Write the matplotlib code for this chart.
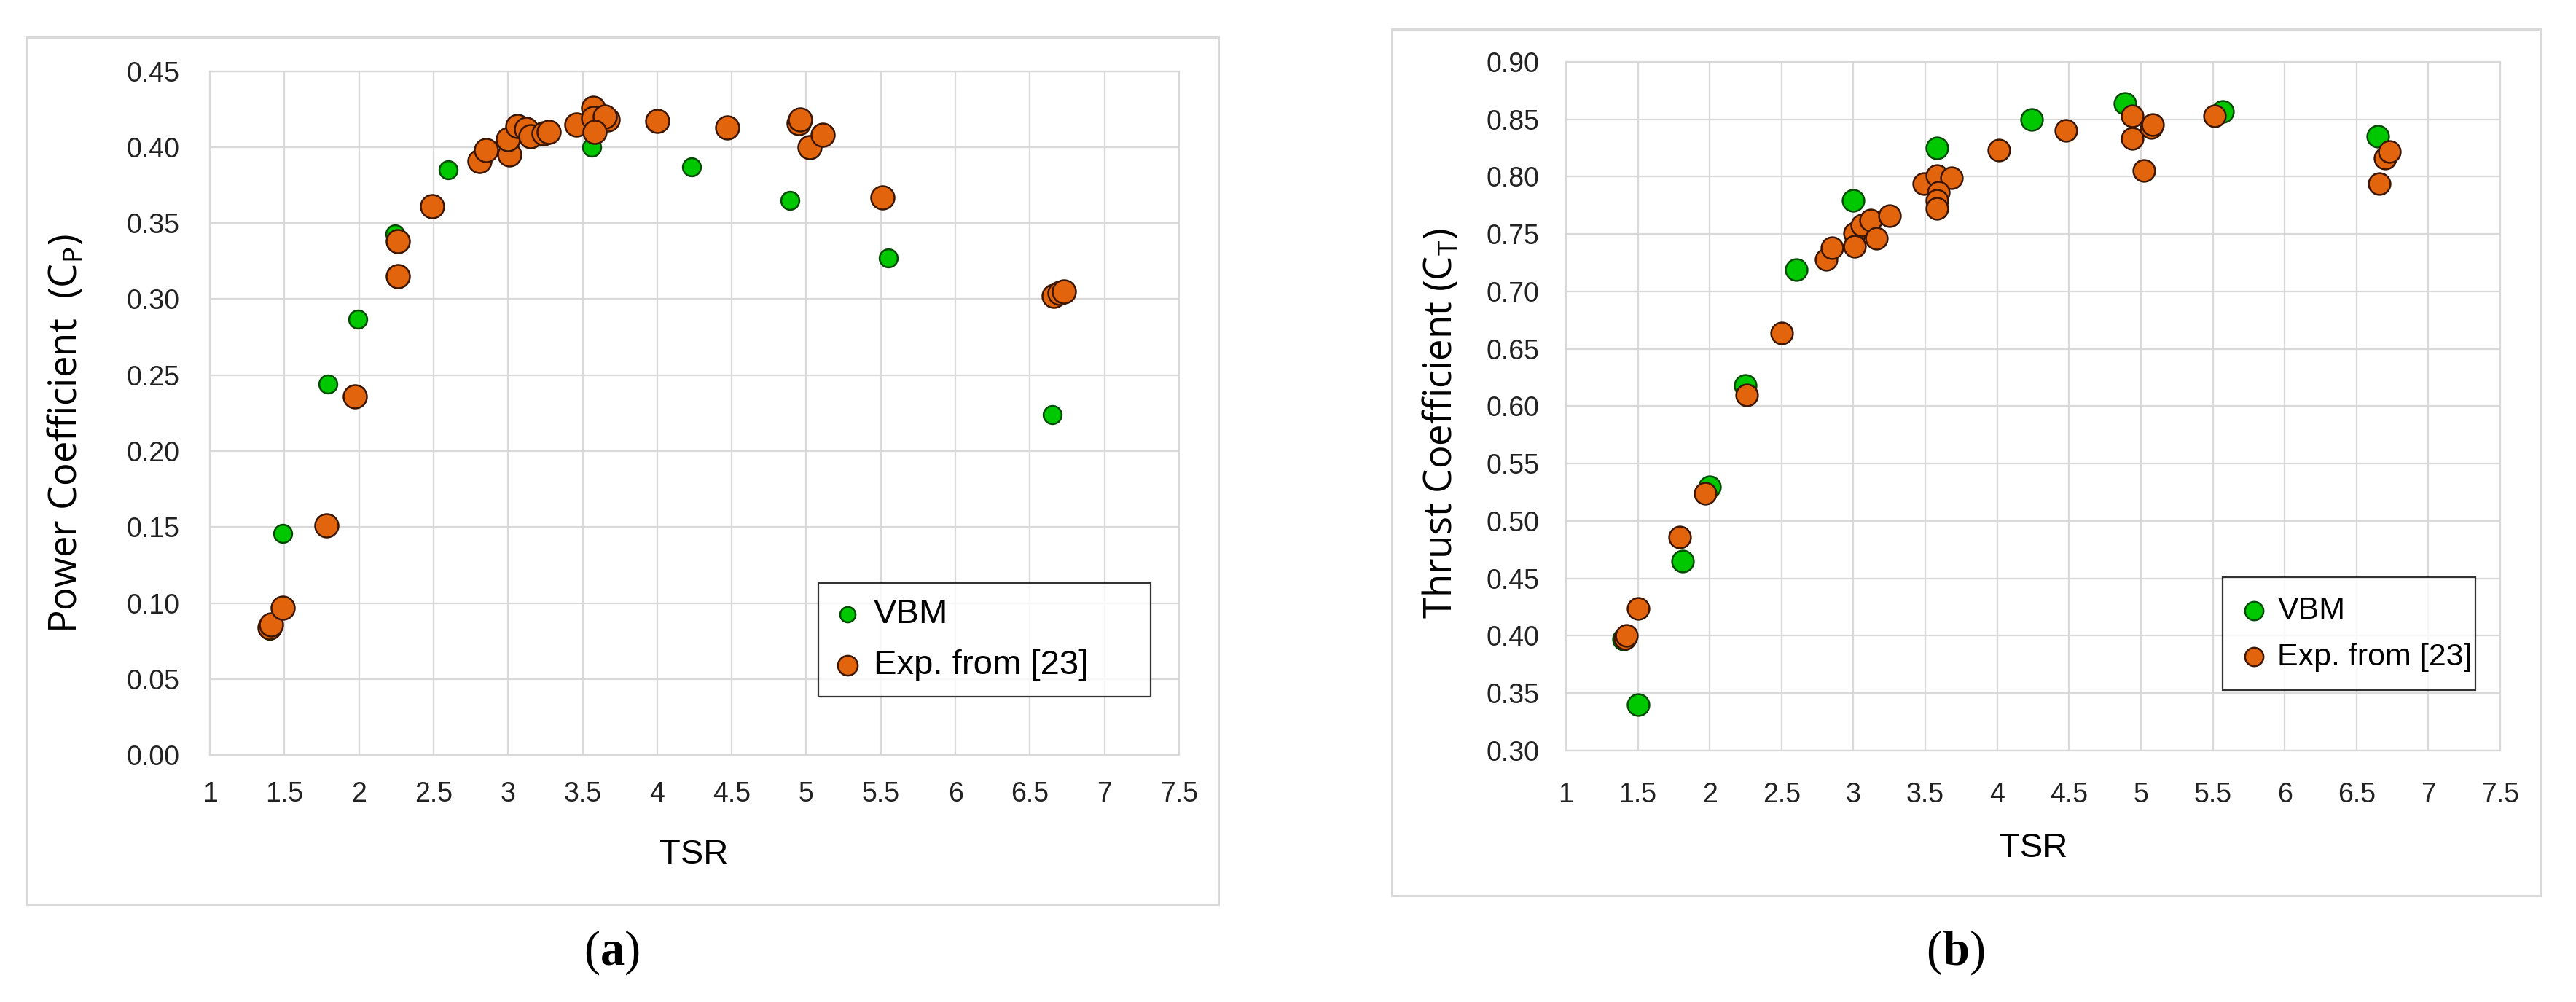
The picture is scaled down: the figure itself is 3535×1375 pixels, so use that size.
import matplotlib

matplotlib.use("Agg")
import matplotlib.pyplot as plt
from matplotlib.patches import Rectangle
from matplotlib.ticker import FormatStrFormatter, FuncFormatter

plt.rcParams["font.family"] = ["Liberation Sans", "DejaVu Sans"]
plt.rcParams["mathtext.default"] = "regular"

# ---- data ---------------------------------------------------------------
# (a) power coefficient
vbm_tsr_a = [1.40, 1.49, 1.79, 1.99, 2.24, 2.60, 3.00, 3.56, 4.23, 4.89, 5.55, 6.65]
vbm_cp = [0.082, 0.146, 0.244, 0.287, 0.343, 0.385, 0.403, 0.400, 0.387, 0.365, 0.327, 0.224]

exp_tsr_a = [1.40, 1.41, 1.49, 1.78, 1.97, 2.26, 2.26, 2.49, 2.81, 2.85, 3.01, 3.00,
             3.06, 3.12, 3.15, 3.24, 3.27, 3.46, 3.57, 3.57, 3.67, 3.65, 3.58, 4.00,
             4.47, 4.95, 4.96, 5.02, 5.11, 5.51, 6.66, 6.70, 6.73]
exp_cp = [0.084, 0.086, 0.097, 0.151, 0.236, 0.338, 0.315, 0.361, 0.391, 0.398, 0.395, 0.405,
          0.414, 0.412, 0.407, 0.409, 0.410, 0.415, 0.426, 0.419, 0.418, 0.420, 0.410, 0.417,
          0.413, 0.416, 0.418, 0.400, 0.408, 0.367, 0.302, 0.304, 0.305]

# (b) thrust coefficient
vbm_tsr_b = [1.40, 1.50, 1.81, 2.00, 2.25, 2.60, 3.00, 3.58, 4.24, 4.89, 5.57, 6.65]
vbm_ct = [0.397, 0.340, 0.465, 0.530, 0.618, 0.719, 0.779, 0.825, 0.850, 0.864, 0.857, 0.835]

exp_tsr_b = [1.41, 1.42, 1.50, 1.79, 1.97, 2.26, 2.50, 2.81, 2.85, 3.01, 3.01, 3.06,
             3.12, 3.16, 3.25, 3.49, 3.58, 3.68, 3.59, 3.58, 3.58, 4.01, 4.48, 4.94,
             4.94, 5.02, 5.07, 5.08, 5.51, 6.66, 6.70, 6.73]
exp_ct = [0.398, 0.400, 0.424, 0.486, 0.524, 0.610, 0.664, 0.728, 0.738, 0.751, 0.739, 0.758,
          0.762, 0.746, 0.766, 0.794, 0.801, 0.799, 0.786, 0.779, 0.772, 0.823, 0.840, 0.853,
          0.833, 0.805, 0.843, 0.845, 0.853, 0.794, 0.816, 0.822]

x_ticks = [1, 1.5, 2, 2.5, 3, 3.5, 4, 4.5, 5, 5.5, 6, 6.5, 7, 7.5]
cp_ticks = [0.00, 0.05, 0.10, 0.15, 0.20, 0.25, 0.30, 0.35, 0.40, 0.45]
ct_ticks = [0.30, 0.35, 0.40, 0.45, 0.50, 0.55, 0.60, 0.65, 0.70, 0.75, 0.80, 0.85, 0.90]

GREEN = "#00c800"
GREEN_EDGE = "#004a00"
ORANGE = "#e2640c"
ORANGE_EDGE = "#3a1600"
GRID = "#d9d9d9"


def style_axes(ax, yticks, ypad, xpad):
    ax.set_xlim(1, 7.5)
    ax.set_ylim(yticks[0], yticks[-1])
    ax.set_xticks(x_ticks)
    ax.set_yticks(yticks)
    ax.xaxis.set_major_formatter(FuncFormatter(lambda v, _: f"{v:g}"))
    ax.yaxis.set_major_formatter(FormatStrFormatter("%.2f"))
    ax.grid(True, color=GRID, lw=1.6, zorder=0)
    ax.set_axisbelow(True)
    for s in ax.spines.values():
        s.set_color(GRID)
        s.set_linewidth(1.6)
    ax.tick_params(axis="both", length=0, labelsize=27, colors="#222222")
    ax.tick_params(axis="y", pad=ypad)
    ax.tick_params(axis="x", pad=xpad)


def add_legend(ax, x0, y1, w, fs, bp):
    leg = ax.legend(loc="upper left", bbox_to_anchor=(x0, y1 - 0.2, w, 0.2),
                    bbox_transform=ax.figure.transFigure, mode="expand",
                    fontsize=fs, frameon=True, fancybox=False, borderpad=bp,
                    handlelength=0.8, handletextpad=0.35, labelspacing=0.55,
                    borderaxespad=0, markerscale=0.85)
    leg.get_frame().set_edgecolor("black")
    leg.get_frame().set_linewidth(1.6)


fig = plt.figure(figsize=(35.35, 13.75), dpi=100)

# light grey chart-area borders
fig.patches.append(Rectangle((0.0105, 0.0975), 0.4625, 0.8655, transform=fig.transFigure,
                             fill=False, ec=GRID, lw=2.2))
fig.patches.append(Rectangle((0.5403, 0.1062), 0.4458, 0.8647, transform=fig.transFigure,
                             fill=False, ec=GRID, lw=2.2))

# ---- (a) ----------------------------------------------------------------
ax1 = fig.add_axes([0.0815, 0.2465, 0.3762, 0.6825])
ax1.scatter(vbm_tsr_a, vbm_cp, s=320, c=GREEN, edgecolors=GREEN_EDGE, linewidths=1.8,
            zorder=3, label="VBM")
ax1.scatter(exp_tsr_a, exp_cp, s=530, c=ORANGE, edgecolors=ORANGE_EDGE, linewidths=1.8,
            zorder=4, label="Exp. from [23]")
style_axes(ax1, cp_ticks, ypad=30, xpad=26)
ax1.set_ylabel("Power Coefficient  (C$_{P}$)", fontsize=38, family=["Open Sans", "DejaVu Sans"])
ax1.yaxis.set_label_coords(-0.128, 0.47)
ax1.set_xlabel("TSR", fontsize=34)
ax1.xaxis.set_label_coords(0.499, -0.122)
add_legend(ax1, 1123 / 3535, 1 - 800 / 1375, 456 / 3535, 34, 0.45)

# ---- (b) ----------------------------------------------------------------
ax2 = fig.add_axes([0.6079, 0.2509, 0.3627, 0.6874])
ax2.scatter(vbm_tsr_b, vbm_ct, s=460, c=GREEN, edgecolors=GREEN_EDGE, linewidths=1.8,
            zorder=3, label="VBM")
ax2.scatter(exp_tsr_b, exp_ct, s=460, c=ORANGE, edgecolors=ORANGE_EDGE, linewidths=1.8,
            zorder=4, label="Exp. from [23]")
style_axes(ax2, ct_ticks, ypad=26, xpad=31)
ax2.set_ylabel("Thrust Coefficient (C$_{T}$)", fontsize=38, family=["Open Sans", "DejaVu Sans"])
ax2.yaxis.set_label_coords(-0.113, 0.475)
ax2.set_xlabel("TSR", fontsize=34)
ax2.xaxis.set_label_coords(0.5, -0.118)
add_legend(ax2, 3050 / 3535, 1 - 792 / 1375, 347 / 3535, 31, 0.6)

# captions
plt.rcParams["mathtext.fontset"] = "custom"
plt.rcParams["mathtext.bf"] = "Liberation Serif:bold"
fig.text(839 / 3535, 0.0495, r"($\mathbf{a}$)", ha="center", va="center", fontsize=48,
         family="Liberation Serif")
fig.text(2683 / 3535, 0.0495, r"($\mathbf{b}$)", ha="center", va="center", fontsize=48,
         family="Liberation Serif")

fig.savefig("out.png", dpi=100, facecolor="white")
